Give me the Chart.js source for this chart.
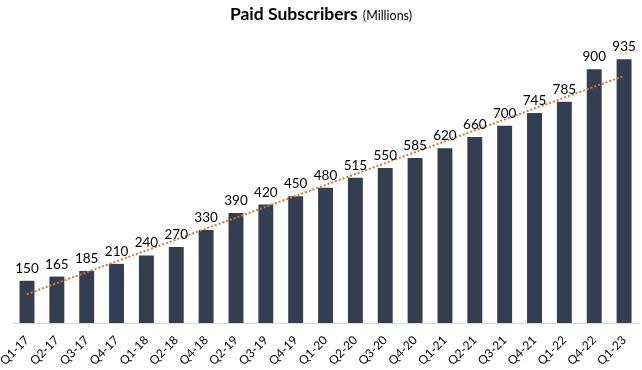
<!DOCTYPE html>
<html>
<head>
<meta charset="utf-8">
<script src="https://cdn.jsdelivr.net/npm/chart.js@4"></script>
<style>
  body { margin: 0; background: #fff; }
</style>
</head>
<body>
<canvas id="myChart" width="642" height="370"></canvas>
<script>
const quarters = ['Q1-17', 'Q2-17', 'Q3-17', 'Q4-17', 'Q1-18', 'Q2-18', 'Q4-18',
    'Q2-19', 'Q3-19', 'Q4-19', 'Q1-20', 'Q2-20', 'Q3-20', 'Q4-20', 'Q1-21',
    'Q2-21', 'Q3-21', 'Q4-21', 'Q1-22', 'Q4-22', 'Q1-23'];
const subscribers = [150, 165, 185, 210, 240, 270, 330, 390, 420, 450, 480,
    515, 550, 585, 620, 660, 700, 745, 785, 900, 935];

// linear trendline (least squares over the bar index)
const n = subscribers.length;
const meanX = (n - 1) / 2;
const meanY = subscribers.reduce((a, b) => a + b, 0) / n;
let sxy = 0, sxx = 0;
subscribers.forEach((v, i) => { sxy += (i - meanX) * (v - meanY); sxx += (i - meanX) ** 2; });
const slope = sxy / sxx;
const intercept = meanY - slope * meanX;
const trend = subscribers.map((v, i) => intercept + slope * i);

const FONT = 'Lato, "Open Sans", sans-serif';

// title with a smaller "(Millions)" part
const titlePlugin = {
    id: 'mixedTitle',
    afterDraw(chart) {
        const c = chart.ctx;
        c.save();
        c.fillStyle = '#000';
        c.textBaseline = 'alphabetic';
        const main = 'Paid Subscribers';
        const sub = '(Millions)';
        const gap = 5;
        c.font = 'bold 17.5px ' + FONT;
        const w1 = c.measureText(main).width;
        c.font = '12.5px ' + FONT;
        const w2 = c.measureText(sub).width;
        let x = chart.width / 2 - (w1 + gap + w2) / 2;
        c.textAlign = 'left';
        c.font = 'bold 17.5px ' + FONT;
        c.fillText(main, x, 20);
        c.font = '12.5px ' + FONT;
        c.fillText(sub, x + w1 + gap, 20);
        c.restore();
    }
};

// value labels above the bars
const valueLabels = {
    id: 'valueLabels',
    afterDatasetsDraw(chart) {
        const c = chart.ctx;
        const meta = chart.getDatasetMeta(0);
        c.save();
        c.font = '13.5px ' + FONT;
        c.fillStyle = '#000';
        c.textAlign = 'center';
        c.textBaseline = 'alphabetic';
        meta.data.forEach((bar, i) => {
            c.fillText(subscribers[i], bar.x, bar.y - 8);
        });
        c.restore();
    }
};

new Chart(document.getElementById('myChart'), {
    type: 'bar',
    data: {
        labels: quarters,
        datasets: [{
            data: subscribers,
            backgroundColor: '#333F50',
            barPercentage: 0.5,
            categoryPercentage: 1,
            order: 2
        }, {
            type: 'line',
            data: trend,
            borderColor: '#D9782D',
            borderWidth: 2,
            borderDash: [2, 2],
            pointRadius: 0,
            fill: false,
            order: 1
        }]
    },
    options: {
        responsive: false,
        animation: false,
        layout: {
            padding: { top: 41, left: 12, right: 3, bottom: 0 }
        },
        plugins: {
            legend: { display: false },
            tooltip: { enabled: false },
            title: { display: false }
        },
        scales: {
            x: {
                offset: true,
                grid: { display: false },
                border: { color: '#D9D9D9', width: 1 },
                ticks: {
                    minRotation: 45,
                    maxRotation: 45,
                    color: '#000',
                    font: { family: FONT, size: 12 },
                    padding: 2
                }
            },
            y: {
                display: false,
                min: 0,
                max: 1000
            }
        }
    },
    plugins: [titlePlugin, valueLabels]
});
</script>
</body>
</html>
